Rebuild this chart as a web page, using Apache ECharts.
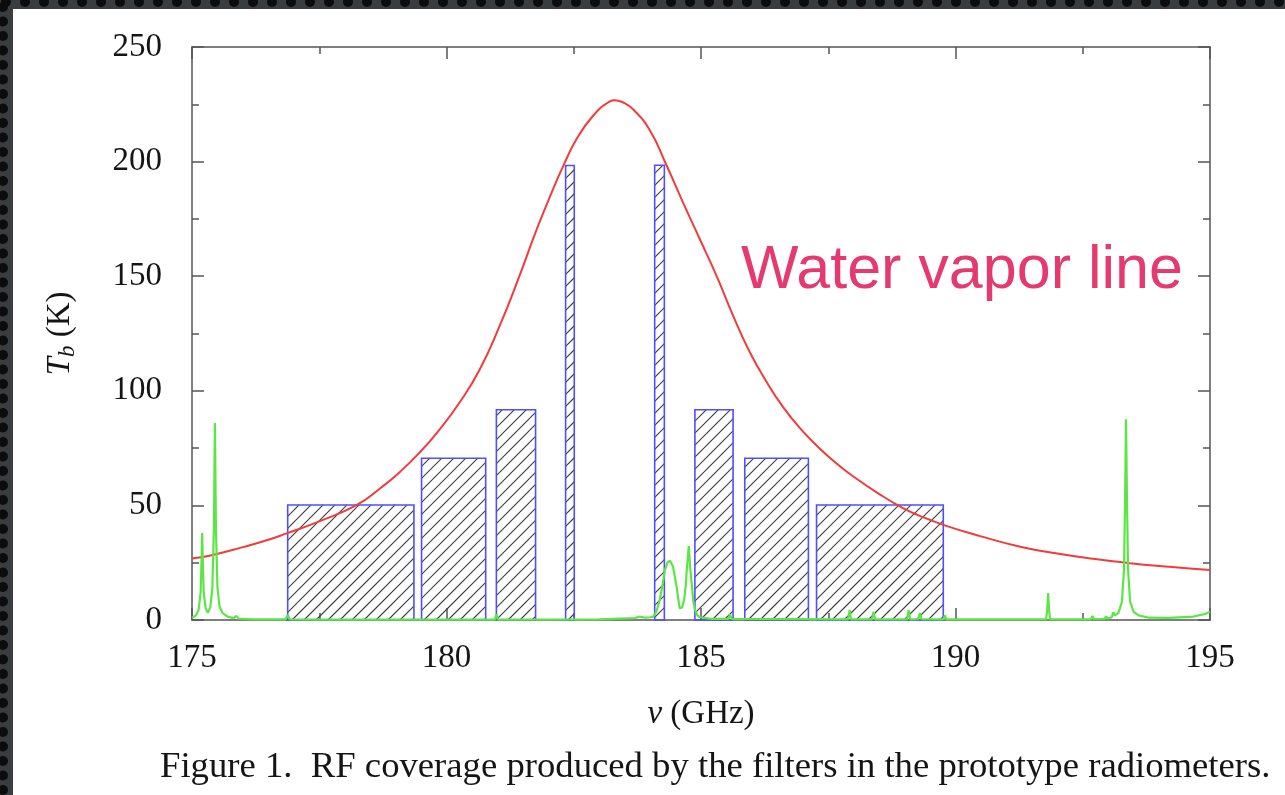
<!DOCTYPE html>
<html>
<head>
<meta charset="utf-8">
<title>RF coverage of the prototype radiometer filters</title>
<script src="https://cdn.jsdelivr.net/npm/echarts@6/dist/echarts.min.js"></script>
<style>
  html, body { margin: 0; padding: 0; background: #ffffff; }
  #chart { width: 1285px; height: 795px; }
</style>
</head>
<body>
<div id="chart"></div>
<script>
// Filter passbands: lower edge, upper edge (GHz) and plotted height (K)
const filterLow  = [176.88, 179.51, 180.98, 182.34, 184.09, 184.88, 185.86, 187.27];
const filterHigh = [179.36, 180.77, 181.75, 182.51, 184.28, 185.63, 187.11, 189.76];
const filterTb   = [50.2, 70.6, 91.7, 198.3, 198.4, 91.7, 70.6, 50.2];

// 183 GHz water vapour line, brightness temperature (K)
const vaporFreq = [175.00, 175.41, 176.00, 176.50, 176.86, 177.50, 178.24, 178.70, 179.08, 179.47,
                   179.86, 180.26, 180.65, 181.04, 181.43, 181.77, 182.09, 182.29, 182.55, 182.88,
                   183.21, 183.30, 183.45, 183.67, 184.00, 184.32, 184.65, 184.98, 185.31, 185.63,
                   185.96, 186.29, 186.61, 186.94, 187.30, 187.60, 188.00, 188.57, 189.00, 189.24,
                   189.76, 190.50, 191.27, 192.00, 192.70, 193.38, 194.20, 195.00];
const vaporTb   = [26.8, 28.4, 31.8, 35.0, 37.8, 43.0, 50.2, 57.5, 64.5, 73.0,
                   83.0, 95.0, 109.2, 128.1, 149.9, 170.3, 187.8, 197.9, 209.6, 220.0,
                   226.3, 226.8, 226.0, 222.7, 213.5, 198.5, 182.0, 166.0, 149.9, 132.8,
                   116.8, 103.8, 93.0, 83.8, 75.5, 69.5, 62.5, 54.0, 48.5, 46.0,
                   41.5, 36.5, 32.0, 29.0, 26.7, 24.9, 23.2, 21.8];

// Narrow secondary lines (K)
const traceFreq = [175.00, 175.08, 175.13, 175.17, 175.19, 175.20, 175.21, 175.23, 175.27, 175.31,
                   175.36, 175.40, 175.43, 175.45, 175.47, 175.50, 175.54, 175.60, 175.70, 175.82,
                   175.87, 175.92, 176.20, 176.84, 176.88, 176.92, 177.50, 180.95, 180.98, 181.01,
                   183.00, 183.70, 183.80, 183.90, 184.00, 184.06, 184.12, 184.19, 184.25, 184.29,
                   184.34, 184.39, 184.45, 184.52, 184.58, 184.63, 184.67, 184.70, 184.72, 184.76,
                   184.79, 184.81, 184.85, 184.88, 184.93, 184.98, 185.20, 185.54, 185.57, 185.60,
                   187.89, 187.92, 187.95, 188.36, 188.39, 188.42, 189.05, 189.08, 189.11, 189.27,
                   189.30, 189.33, 189.76, 189.79, 189.82, 191.78, 191.80, 191.82, 191.84, 191.86,
                   192.66, 192.69, 192.72, 192.93, 192.96, 192.99, 193.07, 193.10, 193.13, 193.20,
                   193.27, 193.31, 193.33, 193.35, 193.37, 193.39, 193.43, 193.50, 193.60, 193.80,
                   194.20, 194.67, 194.90, 195.00];
const traceTb   = [1.0, 2.0, 4.5, 12, 28, 37.9, 28, 12, 5, 3.2,
                   5.5, 14, 40, 85.9, 40, 14, 6, 3, 1.5, 0.8,
                   1.8, 0.6, 0.3, 0.3, 2.2, 0.3, 0.2, 0.2, 2.5, 0.2,
                   0.3, 0.8, 1.5, 1.0, 1.2, 1.5, 3.5, 8.7, 16, 21.8,
                   25, 25.9, 23.3, 14.6, 5.1, 5.5, 9, 15, 21.8, 32.3,
                   22, 17.5, 8, 4.4, 2, 1.2, 0.5, 0.5, 2.5, 0.5,
                   0.3, 4.4, 0.3, 0.3, 3.6, 0.3, 0.3, 4.4, 0.3, 0.4,
                   3.0, 0.4, 0.3, 2.0, 0.3, 0.3, 4, 11.8, 4, 0.3,
                   0.3, 1.8, 0.4, 0.5, 1.6, 0.6, 1.2, 3.4, 2.0, 3,
                   8, 22, 50, 87.6, 50, 22, 8, 3.5, 2, 1.0,
                   0.9, 1.5, 2.6, 3.6];

const SERIF = '"Liberation Serif", "Times New Roman", serif';
const AXIS_GREY = '#555555';
const INK = '#151515';

// Hatched passband box: diagonal "/" strokes clipped to the box, blue outline
function renderFilter(params, api) {
  const topLeft = api.coord([api.value(0), api.value(2)]);
  const bottomRight = api.coord([api.value(1), 0]);
  const L = topLeft[0], T = topLeft[1], R = bottomRight[0], B = bottomRight[1];
  const gap = 12;
  const kids = [];
  const start = Math.ceil((L + T) / gap) * gap;
  for (let c = start; c <= R + B; c += gap) {
    const xa = Math.max(L, c - B);
    const xb = Math.min(R, c - T);
    if (xb > xa) {
      kids.push({
        type: 'line',
        shape: { x1: xa, y1: c - xa, x2: xb, y2: c - xb },
        style: { stroke: '#3c3c3c', lineWidth: 1.1 }
      });
    }
  }
  kids.push({
    type: 'rect',
    shape: { x: L, y: T, width: R - L, height: B - T },
    style: { fill: 'rgba(0,0,0,0)', stroke: '#4f4fff', lineWidth: 1.6 }
  });
  return { type: 'group', children: kids };
}

function frameAxis(extra) {
  return Object.assign({
    type: 'value',
    axisLine: { show: true, onZero: false, lineStyle: { color: AXIS_GREY, width: 1.5 } },
    axisTick: { show: true, inside: true, length: 12, lineStyle: { color: AXIS_GREY, width: 1.5 } },
    minorTick: { show: true, splitNumber: 2, length: 7, lineStyle: { color: AXIS_GREY, width: 1.5 } },
    splitLine: { show: false },
    minorSplitLine: { show: false }
  }, extra);
}

// Dark perforated border strips along the top and left edges
function borderGraphics() {
  const els = [
    { type: 'rect', shape: { x: 0, y: 0, width: 1285, height: 9 }, style: { fill: '#3a3d40' }, silent: true },
    { type: 'rect', shape: { x: 0, y: 0, width: 13, height: 795 }, style: { fill: '#3a3d40' }, silent: true }
  ];
  for (let x = 6; x < 1285; x += 19) {
    els.push({ type: 'circle', shape: { cx: x, cy: 2, r: 5 }, style: { fill: '#0c0c0c' }, silent: true });
  }
  for (let y = 7; y < 795; y += 14.5) {
    els.push({ type: 'circle', shape: { cx: 3, cy: y, r: 5 }, style: { fill: '#0c0c0c' }, silent: true });
  }
  return els;
}

const chart = echarts.init(document.getElementById('chart'), null, { renderer: 'canvas' });

chart.setOption({
  animation: false,
  backgroundColor: '#ffffff',
  grid: { left: 192, right: 75, top: 47, bottom: 175, containLabel: false, outerBoundsMode: 'none' },
  xAxis: [
    frameAxis({
      min: 175, max: 195, interval: 5, position: 'bottom',
      axisLabel: { show: true, margin: 22, fontFamily: SERIF, fontSize: 33, color: INK },
      name: '{i|ν} (GHz)',
      nameLocation: 'middle',
      nameGap: 78,
      nameTextStyle: {
        fontFamily: SERIF, fontSize: 33, color: INK,
        rich: { i: { fontFamily: SERIF, fontSize: 33, fontStyle: 'italic', color: INK } }
      }
    }),
    frameAxis({ min: 175, max: 195, interval: 5, position: 'top', axisLabel: { show: false } })
  ],
  yAxis: [
    frameAxis({
      min: 0, max: 250, interval: 50, position: 'left',
      axisLabel: { show: true, margin: 30, fontFamily: SERIF, fontSize: 33, color: INK },
      name: '{i|T}{s|b} (K)',
      nameLocation: 'middle',
      nameGap: 113,
      nameTextStyle: {
        fontFamily: SERIF, fontSize: 33, color: INK,
        rich: {
          i: { fontFamily: SERIF, fontSize: 33, fontStyle: 'italic', color: INK },
          s: { fontFamily: SERIF, fontSize: 23, fontStyle: 'italic', color: INK, padding: [14, 0, 0, 0] }
        }
      }
    }),
    frameAxis({ min: 0, max: 250, interval: 50, position: 'right', axisLabel: { show: false } })
  ],
  graphic: borderGraphics().concat([
    {
      type: 'text', left: 741, top: 241, silent: true,
      style: { text: 'Water vapor line', font: '61px "Liberation Sans", Arial, sans-serif', fill: '#e5396f' }
    },
    {
      type: 'text', left: 160, top: 749, silent: true,
      style: { text: 'Figure 1.  RF coverage produced by the filters in the prototype radiometers.',
               font: '36.7px ' + SERIF, fill: INK }
    }
  ]),
  series: [
    {
      type: 'custom',
      renderItem: renderFilter,
      data: filterLow.map((lo, i) => [lo, filterHigh[i], filterTb[i]]),
      encode: { x: [0, 1], y: 2 },
      z: 2
    },
    {
      type: 'line',
      data: vaporFreq.map((f, i) => [f, vaporTb[i]]),
      showSymbol: false,
      smooth: 0.5,
      lineStyle: { color: '#f03c3c', width: 2 },
      z: 3
    },
    {
      type: 'line',
      data: traceFreq.map((f, i) => [f, traceTb[i]]),
      showSymbol: false,
      lineStyle: { color: '#5be645', width: 2.2 },
      z: 4
    }
  ]
});
</script>
</body>
</html>
